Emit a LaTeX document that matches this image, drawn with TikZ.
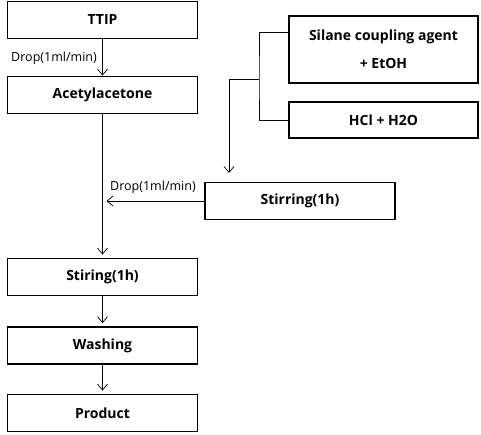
\documentclass[tikz,border=0pt]{standalone}
\usepackage{fontspec}
\setmainfont{Open Sans}
\usetikzlibrary{arrows.meta}

\begin{document}
\begin{tikzpicture}[x=1pt,y=-1pt,
    box/.style={draw, line width=1.8pt, minimum width=190pt, minimum height=37pt, inner sep=0pt, font=\fontsize{14}{17}\selectfont\bfseries},
    lbl/.style={inner sep=0pt, font=\fontsize{12.5}{14}\selectfont},
    arr/.style={-{Straight Barb[length=6pt,width=10pt]}, line width=0.7pt}]
    \useasboundingbox (0,0) rectangle (481,434);
    % Main column
    \foreach \n/\y/\lab in {ttip/20/TTIP, acac/95/Acetylacetone, stiring/277/Stiring(1h), wash/345.5/Washing, prod/413/Product} {
        \node[box] (\n) at (102.5,\y) {\lab};
    }
    % Side column
    \node[box, minimum width=189pt, minimum height=67pt, align=center] (silane) at (383.5,49.5) {Silane coupling agent\\[11pt]+ EtOH};
    \node[box, minimum width=189pt, minimum height=36pt] (hcl) at (383.5,120) {HCl + H2O};
    \node[box] (stir) at (300,201) {Stirring(1h)};
    % Labels
    \node[lbl, anchor=east] (drop1) at (97,58) {Drop(1ml/min)};
    \node[lbl] (drop2) at (153,187) {Drop(1ml/min)};
    % Arrows main column
    \draw[arr] (ttip) -- (acac);
    \draw[arr, shorten >=3pt] (acac) -- (stiring);
    \draw[arr, shorten >=3pt] (stiring) -- (wash);
    \draw[arr, shorten >=3pt] (wash) -- (prod);
    % Mixing bracket
    \coordinate (mix) at (259,79);
    \coordinate (feed) at (229,182);
    \draw[line width=0.7pt] ([yshift=17.5pt]silane.west) -| (mix) |- (hcl.west);
    \draw[arr, shorten >=9pt] (mix) -| (feed);
    \draw[arr, shorten >=4pt] (stir.west) -- (stir.west -| acac.south);
\end{tikzpicture}
\end{document}
